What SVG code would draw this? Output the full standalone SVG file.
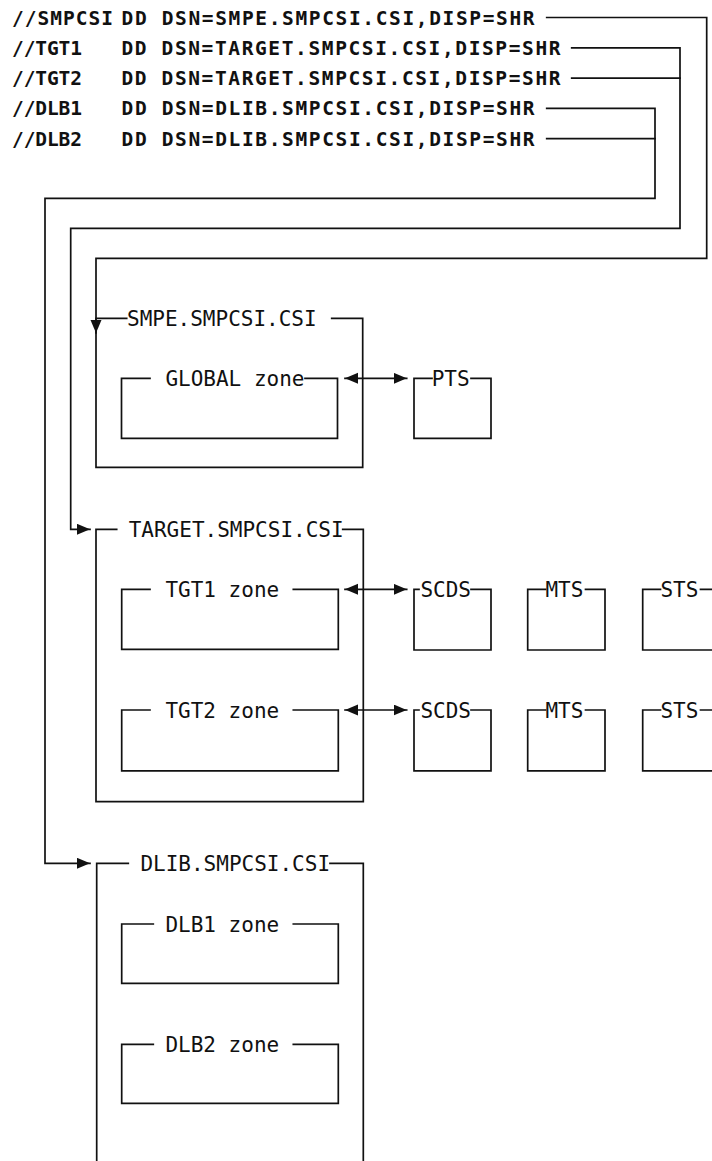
<svg xmlns="http://www.w3.org/2000/svg" width="712" height="1161" viewBox="0 0 712 1161">
<style>
.ln{fill:none;stroke:#111;stroke-width:1.7;stroke-linejoin:miter;stroke-linecap:square}
.jcl{font-family:"DejaVu Sans Mono","Liberation Mono",monospace;font-weight:bold;font-size:19.5px;fill:#111}
.lbl{font-family:"DejaVu Sans Mono","Liberation Mono",monospace;font-size:21px;fill:#111}
</style>
<defs>
<marker id="ah" markerUnits="userSpaceOnUse" markerWidth="14" markerHeight="12" refX="13" refY="5.5" orient="auto-start-reverse" viewBox="0 0 14 12">
<path d="M0,0 L13,5.5 L0,11 z" fill="#111"/>
</marker>
</defs>
<rect width="712" height="1161" fill="#fff"/>

<g id="jcl">
<text class="jcl" x="12" y="24.5" textLength="101" lengthAdjust="spacing">//SMPCSI</text>
<text class="jcl" x="121.5" y="24.5" textLength="413" lengthAdjust="spacing">DD DSN=SMPE.SMPCSI.CSI,DISP=SHR</text>
<text class="jcl" x="12" y="54.8" textLength="70" lengthAdjust="spacing">//TGT1</text>
<text class="jcl" x="121.5" y="54.8" textLength="439" lengthAdjust="spacing">DD DSN=TARGET.SMPCSI.CSI,DISP=SHR</text>
<text class="jcl" x="12" y="85.1" textLength="70" lengthAdjust="spacing">//TGT2</text>
<text class="jcl" x="121.5" y="85.1" textLength="439" lengthAdjust="spacing">DD DSN=TARGET.SMPCSI.CSI,DISP=SHR</text>
<text class="jcl" x="12" y="115.4" textLength="70" lengthAdjust="spacing">//DLB1</text>
<text class="jcl" x="121.5" y="115.4" textLength="413" lengthAdjust="spacing">DD DSN=DLIB.SMPCSI.CSI,DISP=SHR</text>
<text class="jcl" x="12" y="145.7" textLength="70" lengthAdjust="spacing">//DLB2</text>
<text class="jcl" x="121.5" y="145.7" textLength="413" lengthAdjust="spacing">DD DSN=DLIB.SMPCSI.CSI,DISP=SHR</text>
</g>

<g id="connectors">
<path class="ln" d="M546.7,17.5 H706.7 V258.3 H96 V333" marker-end="url(#ah)"/>
<path class="ln" d="M571.7,47.8 H680 V228.3 H70.7 V529.3 H90" marker-end="url(#ah)"/>
<path class="ln" d="M571.7,78.1 H680"/>
<path class="ln" d="M546.7,108.4 H655 V198.3 H45 V863.3 H90" marker-end="url(#ah)"/>
<path class="ln" d="M546.7,138.7 H655"/>
<path class="ln" d="M345,378.3 H406.7" marker-start="url(#ah)" marker-end="url(#ah)"/>
<path class="ln" d="M345,589.3 H406.7" marker-start="url(#ah)" marker-end="url(#ah)"/>
<path class="ln" d="M345,710 H406.7" marker-start="url(#ah)" marker-end="url(#ah)"/>
</g>

<g id="smpe-csi">
<path class="ln" d="M126.7,318.3 H96 V467.3 H362.7 V318.3 H331.7"/>
<text class="lbl" x="127" y="326">SMPE.SMPCSI.CSI</text>
</g>
<g id="global-zone">
<path class="ln" d="M150,378.3 H121.5 V438.3 H337.5 V378.3 H305"/>
<text class="lbl" x="165.4" y="386">GLOBAL zone</text>
</g>
<g id="pts">
<path class="ln" d="M432,378.3 H414 V438.3 H491 V378.3 H471"/>
<text class="lbl" x="431.7" y="386">PTS</text>
</g>

<g id="target-csi">
<path class="ln" d="M116.7,529.3 H96 V801.7 H363.3 V529.3 H342.7"/>
<text class="lbl" x="128.7" y="537">TARGET.SMPCSI.CSI</text>
</g>
<g id="tgt1-zone">
<path class="ln" d="M150,589.3 H121.7 V649.3 H338.3 V589.3 H293.3"/>
<text class="lbl" x="165.4" y="597">TGT1 zone</text>
</g>
<g id="tgt2-zone">
<path class="ln" d="M150,710 H121.7 V770.8 H338.3 V710 H293.3"/>
<text class="lbl" x="165.4" y="717.7">TGT2 zone</text>
</g>
<g id="scds1">
<path class="ln" d="M419,589.3 H414 V650 H491 V589.3 H471"/>
<text class="lbl" x="420.4" y="597">SCDS</text>
</g>
<g id="mts1">
<path class="ln" d="M545.5,589.3 H527.7 V650 H605 V589.3 H585.5"/>
<text class="lbl" x="545.4" y="597">MTS</text>
</g>
<g id="sts1">
<path class="ln" d="M660.5,589.3 H642.7 V650 H720 V589.3 H700.5"/>
<text class="lbl" x="660.4" y="597">STS</text>
</g>
<g id="scds2">
<path class="ln" d="M419,710 H414 V770.8 H491 V710 H471"/>
<text class="lbl" x="420.4" y="717.7">SCDS</text>
</g>
<g id="mts2">
<path class="ln" d="M545.5,710 H527.7 V770.8 H605 V710 H585.5"/>
<text class="lbl" x="545.4" y="717.7">MTS</text>
</g>
<g id="sts2">
<path class="ln" d="M660.5,710 H642.7 V770.8 H720 V710 H700.5"/>
<text class="lbl" x="660.4" y="717.7">STS</text>
</g>

<g id="dlib-csi">
<path class="ln" d="M128.3,863.3 H96.7 V1175"/>
<path class="ln" d="M330,863.3 H363.3 V1175"/>
<text class="lbl" x="140.4" y="871">DLIB.SMPCSI.CSI</text>
</g>
<g id="dlb1-zone">
<path class="ln" d="M153.3,924 H121.7 V983.3 H338.3 V924 H293.3"/>
<text class="lbl" x="165.4" y="931.6">DLB1 zone</text>
</g>
<g id="dlb2-zone">
<path class="ln" d="M153.3,1044.3 H121.7 V1103.3 H338.3 V1044.3 H293.3"/>
<text class="lbl" x="165.4" y="1051.9">DLB2 zone</text>
</g>
</svg>
